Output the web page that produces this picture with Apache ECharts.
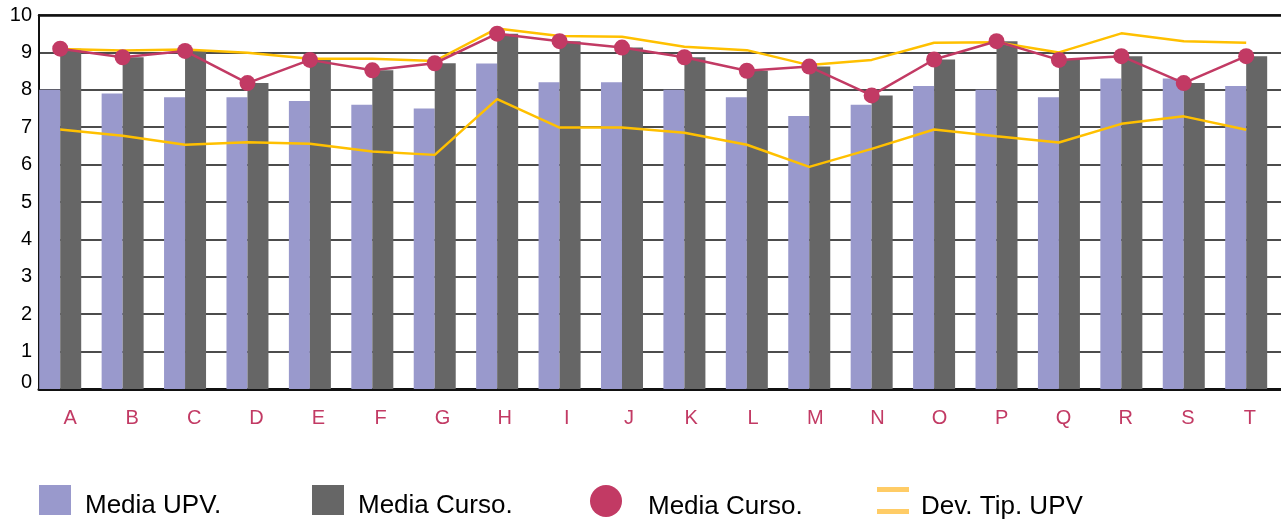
<!DOCTYPE html>
<html>
<head>
<meta charset="utf-8">
<title>Media UPV / Media Curso</title>
<script src="https://cdn.jsdelivr.net/npm/echarts@6/dist/echarts.min.js"></script>
<style>
  html, body { margin: 0; padding: 0; background: #ffffff; }
  #chart { width: 1281px; height: 522px; }
</style>
</head>
<body>
<div id="chart"></div>
<script>
// categorias
const categorias = ['A','B','C','D','E','F','G','H','I','J','K','L','M','N','O','P','Q','R','S','T'];
// media UPV (barras lilas)
const mediaUPV = [8.0, 7.9, 7.8, 7.8, 7.7, 7.6, 7.5, 8.7, 8.2, 8.2, 8.0, 7.8, 7.3, 7.6, 8.1, 8.0, 7.8, 8.3, 8.3, 8.1];
// media curso (barras grises y linea con puntos)
const mediaCurso = [9.1, 8.87, 9.04, 8.18, 8.8, 8.52, 8.71, 9.5, 9.3, 9.13, 8.87, 8.51, 8.62, 7.85, 8.81, 9.3, 8.8, 8.9, 8.18, 8.9];
// desviacion tipica UPV, limites superior e inferior
const devSuperior = [9.09, 9.05, 9.08, 8.99, 8.83, 8.83, 8.77, 9.64, 9.44, 9.42, 9.15, 9.06, 8.66, 8.80, 9.26, 9.27, 9.0, 9.51, 9.30, 9.26];
const devInferior = [6.94, 6.77, 6.53, 6.60, 6.56, 6.35, 6.26, 7.75, 6.99, 6.99, 6.85, 6.53, 5.94, 6.42, 6.94, 6.76, 6.59, 7.09, 7.29, 6.93];
// marcas del eje y
const yMin = 0, yMax = 10, yPaso = 1;

const fuente = '"Liberation Sans", Arial, sans-serif';
const colores = {
  upv: '#9999cc',
  curso: '#666666',
  punto: '#c23a64',
  dev: '#ffc000',
  devLeyenda: '#ffcc66'
};

const chart = echarts.init(document.getElementById('chart'));

// estilo comun del texto de la leyenda (el rich baja un poco el texto)
const textoLeyenda = (izq) => ({
  fontSize: 26, color: '#000000', padding: [0, 0, 0, izq], fontFamily: fuente,
  rich: { t: { fontSize: 26, color: '#000000', fontFamily: fuente, padding: [12, 0, 0, 0] } }
});
const nombreLeyenda = (name) => '{t|' + name + '}';

const option = {
  backgroundColor: '#ffffff',
  animation: false,
  textStyle: { fontFamily: fuente },
  grid: [
    // grid 0: ejes, rejilla y etiquetas
    { left: 39, top: 15, width: 1248, height: 374 },
    // grid 1: series (desplazado para que las barras empiecen en el eje)
    { left: 29, top: 15, width: 1248.4, height: 374 }
  ],
  xAxis: [
    {
      type: 'category',
      gridIndex: 0,
      data: categorias,
      axisLine: { lineStyle: { color: '#111111', width: 3 } },
      axisTick: { show: false },
      axisLabel: { color: colores.punto, fontSize: 20, margin: 19, fontFamily: fuente },
      splitLine: { show: false }
    },
    {
      // borde superior
      type: 'category',
      gridIndex: 0,
      position: 'top',
      data: categorias,
      axisLine: { lineStyle: { color: '#111111', width: 2.5 } },
      axisTick: { show: false },
      axisLabel: { show: false }
    },
    {
      type: 'category',
      gridIndex: 1,
      data: categorias,
      show: false
    }
  ],
  yAxis: [
    {
      type: 'value',
      gridIndex: 0,
      min: yMin,
      max: yMax,
      interval: yPaso,
      axisLine: { show: true, lineStyle: { color: '#111111', width: 2 } },
      axisTick: { show: false },
      axisLabel: {
        color: '#000000',
        fontSize: 20,
        margin: 7,
        fontFamily: fuente,
        formatter: function (v) { return v === 0 ? '{z|0}' : String(v) },
        rich: { z: { fontSize: 20, color: '#000000', padding: [0, 0, 14, 0], fontFamily: fuente } }
      },
      splitLine: { lineStyle: { color: '#111111', width: 1.6 } }
    },
    {
      type: 'value',
      gridIndex: 1,
      min: yMin,
      max: yMax,
      show: false,
      splitLine: { show: false }
    }
  ],
  legend: [
    {
      left: 39, top: 485, padding: 0, itemWidth: 32, itemHeight: 30,
      textStyle: textoLeyenda(9), formatter: nombreLeyenda,
      data: [{ name: 'Media UPV.', icon: 'rect' }]
    },
    {
      left: 312, top: 485, padding: 0, itemWidth: 32, itemHeight: 30,
      textStyle: textoLeyenda(9), formatter: nombreLeyenda,
      data: [{ name: 'Media Curso.', icon: 'rect' }]
    },
    {
      left: 590, top: 485, padding: 0, itemWidth: 32, itemHeight: 32,
      textStyle: textoLeyenda(21), formatter: nombreLeyenda,
      data: [{ name: 'Media Curso. ', icon: 'circle' }]
    },
    {
      left: 877, top: 487, padding: 0, itemWidth: 32, itemHeight: 27,
      textStyle: textoLeyenda(7), formatter: nombreLeyenda,
      data: [{
        name: 'Dev. Tip. UPV',
        icon: 'path://M0,0H32V5H0Z M0,22H32V27H0Z',
        itemStyle: { color: colores.devLeyenda }
      }]
    }
  ],
  series: [
    {
      name: 'Media UPV.',
      type: 'bar',
      xAxisIndex: 2, yAxisIndex: 1,
      barWidth: 21,
      barGap: '0%',
      itemStyle: { color: colores.upv },
      data: mediaUPV,
      z: 2
    },
    {
      name: 'Media Curso.',
      type: 'bar',
      xAxisIndex: 2, yAxisIndex: 1,
      barWidth: 21,
      barGap: '0%',
      itemStyle: { color: colores.curso },
      data: mediaCurso,
      z: 2
    },
    {
      name: 'Dev. Tip. UPV',
      type: 'line',
      xAxisIndex: 2, yAxisIndex: 1,
      symbol: 'none',
      lineStyle: { color: colores.dev, width: 2.5 },
      itemStyle: { color: colores.dev },
      data: devSuperior,
      z: 3
    },
    {
      name: 'Dev. Tip. UPV',
      type: 'line',
      xAxisIndex: 2, yAxisIndex: 1,
      symbol: 'none',
      lineStyle: { color: colores.dev, width: 2.5 },
      itemStyle: { color: colores.dev },
      data: devInferior,
      z: 3
    },
    {
      name: 'Media Curso. ',
      type: 'line',
      xAxisIndex: 2, yAxisIndex: 1,
      symbol: 'circle',
      symbolSize: 16,
      lineStyle: { color: colores.punto, width: 2.5 },
      itemStyle: { color: colores.punto },
      data: mediaCurso,
      z: 4
    }
  ]
};

chart.setOption(option);
window.addEventListener('resize', () => chart.resize());
</script>
</body>
</html>
